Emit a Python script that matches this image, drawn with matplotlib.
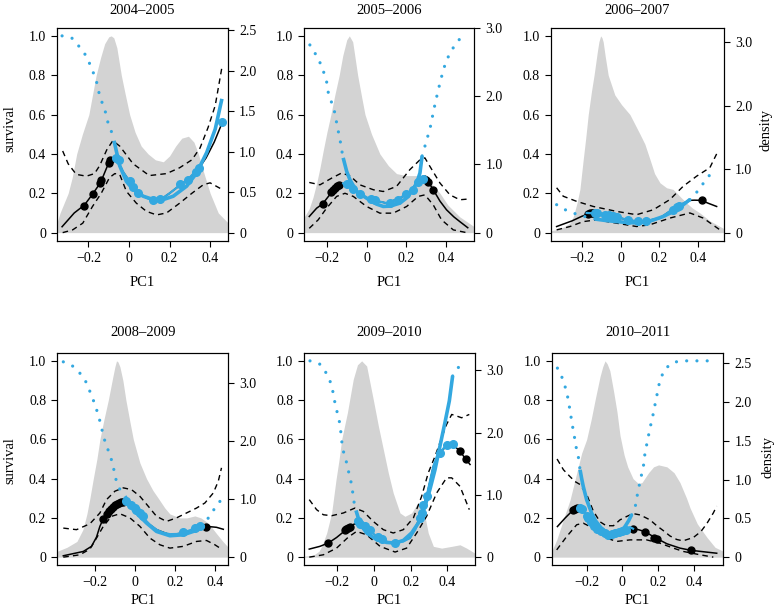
import matplotlib
matplotlib.use("Agg")
import matplotlib.pyplot as plt

plt.rcParams['font.family'] = ['Liberation Serif', 'DejaVu Serif']

BLUE = '#33a8e0'
GRAY = '#d3d3d3'

TITLES = ['2004–2005', '2005–2006', '2006–2007', '2008–2009', '2009–2010', '2010–2011']
XLIMS = [(-0.355, 0.488), (-0.314, 0.543), (-0.359, 0.533),
         (-0.388, 0.467), (-0.38, 0.551), (-0.396, 0.566)]
DENS_MAX = [2.43, 2.88, 3.10, 3.39, 3.15, 2.53]
RIGHT_TICKS = [[0, 0.5, 1.0, 1.5, 2.0, 2.5], [0, 1.0, 2.0, 3.0], [0, 1.0, 2.0, 3.0],
               [0, 1.0, 2.0, 3.0], [0, 1.0, 2.0, 3.0], [0, 0.5, 1.0, 1.5, 2.0, 2.5]]
LEFT_TICKS = [0, 0.2, 0.4, 0.6, 0.8, 1.0]
X_TICKS = [-0.2, 0, 0.2, 0.4]

# ---------------- panel 1 : 2004-2005 ----------------
P1_DENS_X = [-0.355, -0.34, -0.32, -0.30, -0.28, -0.258, -0.23, -0.198, -0.18, -0.162, -0.14, -0.12, -0.10,
             -0.088, -0.075, -0.06, -0.038, -0.02, 0.003, 0.03, 0.06, 0.094, 0.13, 0.169, 0.20, 0.23, 0.26,
             0.293, 0.32, 0.342, 0.37, 0.40, 0.44, 0.488]
P1_DENS_Y = [0.05, 0.10, 0.15, 0.20, 0.28, 0.40, 0.50, 0.60, 0.70, 0.80, 0.89, 0.96, 0.995, 1.0, 0.99, 0.94,
             0.80, 0.71, 0.60, 0.51, 0.44, 0.40, 0.37, 0.36, 0.39, 0.44, 0.48, 0.49, 0.46, 0.40, 0.30, 0.20,
             0.10, 0.05]
P1_FIT_X = [-0.33, -0.30, -0.27, -0.22, -0.18, -0.14, -0.11, -0.092, -0.075, -0.063, -0.03, 0.003, 0.045,
            0.09, 0.12, 0.16, 0.20, 0.25, 0.29, 0.34, 0.38, 0.42, 0.458]
P1_FIT_Y = [0.03, 0.065, 0.10, 0.14, 0.195, 0.255, 0.33, 0.37, 0.385, 0.38, 0.31, 0.26, 0.20, 0.175, 0.168,
            0.171, 0.20, 0.24, 0.27, 0.32, 0.38, 0.46, 0.555]
P1_UP_X = [-0.327, -0.30, -0.26, -0.21, -0.17, -0.145, -0.11, -0.08, -0.046, 0.02, 0.10, 0.185, 0.25, 0.31,
           0.35, 0.39, 0.425, 0.458]
P1_UP_Y = [0.415, 0.35, 0.296, 0.287, 0.30, 0.34, 0.42, 0.467, 0.44, 0.35, 0.29, 0.30, 0.33, 0.37, 0.43,
           0.535, 0.646, 0.84]
P1_LO_X = [-0.327, -0.278, -0.228, -0.18, -0.137, -0.096, -0.07, -0.046, -0.013, 0.036, 0.086, 0.136, 0.185,
           0.25, 0.31, 0.367, 0.40, 0.458]
P1_LO_Y = [0.0, 0.014, 0.048, 0.133, 0.20, 0.28, 0.30, 0.296, 0.21, 0.15, 0.108, 0.09, 0.10, 0.15, 0.20,
           0.244, 0.253, 0.22]
P1_PTS_X = [-0.22, -0.178, -0.145, -0.137, -0.099, -0.092]
P1_PTS_Y = [0.137, 0.195, 0.25, 0.27, 0.356, 0.37]
P1_BFIT_X = [-0.074, -0.046, -0.013, 0.02, 0.07, 0.12, 0.169, 0.218, 0.284, 0.334, 0.383, 0.425, 0.458]
P1_BFIT_Y = [0.467, 0.34, 0.26, 0.22, 0.185, 0.168, 0.168, 0.185, 0.236, 0.304, 0.407, 0.526, 0.68]
P1_BLINE_X = [-0.07, -0.063, -0.03, 0.003, 0.045, 0.09, 0.12, 0.16, 0.20, 0.25, 0.29, 0.345]
P1_BLINE_Y = [0.385, 0.38, 0.31, 0.26, 0.20, 0.175, 0.168, 0.171, 0.20, 0.24, 0.27, 0.33]
P1_BPTS_X = [-0.063, -0.05, 0.005, 0.02, 0.045, 0.12, 0.155, 0.25, 0.29, 0.33, 0.345, 0.458]
P1_BPTS_Y = [0.38, 0.37, 0.26, 0.23, 0.20, 0.165, 0.17, 0.245, 0.27, 0.31, 0.33, 0.56]
P1_DOTL_X = [-0.33, -0.281, -0.245, -0.208, -0.175, -0.159, -0.145, -0.129, -0.116, -0.104, -0.088, -0.074]
P1_DOTL_Y = [1.0, 0.988, 0.945, 0.894, 0.81, 0.762, 0.697, 0.65, 0.612, 0.56, 0.518, 0.467]
P1_DOTR_X = []
P1_DOTR_Y = []

# ---------------- panel 2 : 2005-2006 ----------------
P2_DENS_X = [-0.314, -0.29, -0.27, -0.252, -0.235, -0.218, -0.20, -0.18, -0.16, -0.138, -0.12, -0.10, -0.087,
             -0.07, -0.045, -0.025, -0.008, 0.025, 0.067, 0.11, 0.151, 0.20, 0.25, 0.286, 0.31, 0.336, 0.37,
             0.41, 0.47, 0.543]
P2_DENS_Y = [0.08, 0.12, 0.18, 0.25, 0.33, 0.42, 0.51, 0.60, 0.70, 0.80, 0.90, 0.98, 1.0, 0.97, 0.80, 0.69,
             0.60, 0.50, 0.40, 0.34, 0.30, 0.29, 0.29, 0.29, 0.27, 0.24, 0.20, 0.14, 0.08, 0.03]
P2_FIT_X = [-0.289, -0.252, -0.222, -0.18, -0.151, -0.118, -0.10, -0.034, 0.025, 0.10, 0.168, 0.218, 0.26,
            0.286, 0.31, 0.336, 0.37, 0.403, 0.44, 0.47, 0.51]
P2_FIT_Y = [0.082, 0.124, 0.146, 0.20, 0.226, 0.25, 0.243, 0.192, 0.167, 0.15, 0.175, 0.209, 0.26, 0.277,
            0.26, 0.218, 0.16, 0.116, 0.08, 0.056, 0.025]
P2_UP_X = [-0.289, -0.235, -0.176, -0.126, -0.084, -0.034, 0.034, 0.084, 0.151, 0.218, 0.269, 0.294, 0.319,
           0.37, 0.42, 0.47, 0.504]
P2_UP_Y = [0.255, 0.243, 0.277, 0.303, 0.289, 0.243, 0.218, 0.209, 0.235, 0.32, 0.37, 0.38, 0.337, 0.252,
           0.192, 0.167, 0.17]
P2_LO_X = [-0.289, -0.244, -0.202, -0.151, -0.109, -0.067, 0.0, 0.067, 0.134, 0.202, 0.26, 0.294, 0.336,
           0.378, 0.437, 0.504]
P2_LO_Y = [0.022, 0.065, 0.124, 0.184, 0.20, 0.184, 0.133, 0.099, 0.099, 0.133, 0.184, 0.192, 0.141, 0.065,
           0.014, 0.0]
P2_PTS_X = [-0.222, -0.18, -0.17, -0.16, -0.15, -0.14, 0.29, 0.30, 0.31, 0.336]
P2_PTS_Y = [0.146, 0.205, 0.215, 0.225, 0.235, 0.24, 0.275, 0.265, 0.255, 0.218]
P2_BFIT_X = [-0.118, -0.10, -0.084, -0.05, 0.0, 0.05, 0.084, 0.12, 0.168, 0.20, 0.235, 0.255, 0.269, 0.28]
P2_BFIT_Y = [0.38, 0.31, 0.269, 0.21, 0.175, 0.145, 0.133, 0.135, 0.15, 0.175, 0.218, 0.26, 0.303, 0.39]
P2_BLINE_X = [-0.118, -0.10, -0.034, 0.025, 0.10, 0.168, 0.218, 0.26, 0.285]
P2_BLINE_Y = [0.25, 0.243, 0.192, 0.167, 0.15, 0.175, 0.209, 0.26, 0.277]
P2_BPTS_X = [-0.10, -0.07, -0.034, 0.02, 0.04, 0.12, 0.16, 0.20, 0.235, 0.26, 0.285]
P2_BPTS_Y = [0.245, 0.22, 0.195, 0.17, 0.165, 0.152, 0.168, 0.195, 0.218, 0.255, 0.275]
P2_DOTL_X = [-0.286, -0.26, -0.235, -0.218, -0.202, -0.193, -0.176, -0.16, -0.148, -0.134, -0.126, -0.118]
P2_DOTL_Y = [0.954, 0.912, 0.864, 0.821, 0.77, 0.711, 0.66, 0.609, 0.541, 0.473, 0.422, 0.38]
P2_DOTR_X = [0.28, 0.30, 0.32, 0.34, 0.36, 0.38, 0.40, 0.43, 0.47]
P2_DOTR_Y = [0.39, 0.46, 0.53, 0.63, 0.72, 0.80, 0.87, 0.93, 0.985]

# ---------------- panel 3 : 2006-2007 ----------------
P3_DENS_X = [-0.359, -0.33, -0.29, -0.26, -0.244, -0.225, -0.21, -0.193, -0.18, -0.167, -0.15, -0.137, -0.12,
             -0.112, -0.103, -0.096, -0.09, -0.08, -0.064, -0.03, 0.005, 0.048, 0.074, 0.10, 0.125, 0.151,
             0.175, 0.203, 0.237, 0.27, 0.289, 0.31, 0.34, 0.37, 0.409, 0.46, 0.533]
P3_DENS_Y = [0.01, 0.015, 0.03, 0.05, 0.082, 0.15, 0.22, 0.37, 0.48, 0.60, 0.72, 0.80, 0.92, 0.97, 1.0, 0.99,
             0.97, 0.90, 0.80, 0.70, 0.65, 0.60, 0.55, 0.50, 0.45, 0.373, 0.30, 0.253, 0.228, 0.22, 0.202,
             0.18, 0.151, 0.125, 0.10, 0.06, 0.02]
P3_FIT_X = [-0.33, -0.25, -0.20, -0.167, -0.141, -0.09, -0.021, 0.048, 0.117, 0.203, 0.289, 0.357, 0.38, 0.417,
            0.45, 0.495]
P3_FIT_Y = [0.031, 0.06, 0.083, 0.095, 0.10, 0.096, 0.079, 0.062, 0.056, 0.074, 0.133, 0.164, 0.165, 0.164,
            0.15, 0.133]
P3_UP_X = [-0.33, -0.296, -0.227, -0.141, -0.021, 0.082, 0.168, 0.254, 0.323, 0.392, 0.46, 0.495]
P3_UP_Y = [0.228, 0.185, 0.159, 0.133, 0.108, 0.091, 0.116, 0.168, 0.236, 0.287, 0.33, 0.40]
P3_LO_X = [-0.33, -0.261, -0.193, -0.124, -0.021, 0.082, 0.151, 0.254, 0.357, 0.426, 0.512]
P3_LO_Y = [0.014, 0.031, 0.056, 0.065, 0.048, 0.031, 0.04, 0.074, 0.10, 0.074, 0.014]
P3_PTS_X = [-0.17, -0.16, -0.15, -0.14, 0.417]
P3_PTS_Y = [0.095, 0.10, 0.10, 0.10, 0.164]
P3_BFIT_X = [-0.132, -0.08, -0.021, 0.03, 0.065, 0.10, 0.15, 0.22, 0.289, 0.357]
P3_BFIT_Y = [0.069, 0.062, 0.056, 0.052, 0.05, 0.05, 0.058, 0.082, 0.116, 0.168]
P3_BLINE_X = [-0.175, -0.09, -0.021, 0.048, 0.117, 0.203, 0.289, 0.357]
P3_BLINE_Y = [0.10, 0.096, 0.079, 0.062, 0.056, 0.074, 0.133, 0.164]
P3_BPTS_X = [-0.13, -0.12, -0.08, -0.06, -0.04, -0.02, 0.04, 0.09, 0.13, 0.27, 0.29, 0.30]
P3_BPTS_Y = [0.098, 0.10, 0.09, 0.088, 0.085, 0.08, 0.065, 0.058, 0.06, 0.115, 0.13, 0.135]
P3_DOTL_X = [-0.33, -0.29, -0.24, -0.19, -0.132]
P3_DOTL_Y = [0.142, 0.118, 0.098, 0.083, 0.069]
P3_DOTR_X = [0.357, 0.392, 0.426, 0.457, 0.481]
P3_DOTR_Y = [0.168, 0.205, 0.25, 0.29, 0.335]

# ---------------- panel 4 : 2008-2009 ----------------
P4_DENS_X = [-0.388, -0.34, -0.29, -0.26, -0.24, -0.225, -0.208, -0.19, -0.175, -0.155, -0.133, -0.11, -0.10,
             -0.092, -0.085, -0.075, -0.06, -0.045, -0.025, -0.008, 0.025, 0.058, 0.09, 0.117, 0.15, 0.175,
             0.225, 0.26, 0.30, 0.33, 0.358, 0.385, 0.408, 0.44, 0.467]
P4_DENS_Y = [0.03, 0.05, 0.08, 0.14, 0.22, 0.30, 0.40, 0.50, 0.60, 0.70, 0.80, 0.92, 0.97, 1.0, 0.995, 0.97,
             0.90, 0.80, 0.69, 0.60, 0.48, 0.40, 0.34, 0.30, 0.25, 0.22, 0.20, 0.20, 0.21, 0.20, 0.18, 0.15,
             0.12, 0.08, 0.05]
P4_FIT_X = [-0.358, -0.258, -0.217, -0.192, -0.175, -0.158, -0.125, -0.092, -0.067, -0.042, -0.008, 0.042,
            0.108, 0.175, 0.242, 0.308, 0.358, 0.408, 0.442]
P4_FIT_Y = [0.007, 0.029, 0.055, 0.102, 0.157, 0.196, 0.242, 0.273, 0.281, 0.276, 0.242, 0.19, 0.14, 0.114,
            0.123, 0.143, 0.157, 0.152, 0.142]
P4_UP_X = [-0.358, -0.292, -0.225, -0.175, -0.142, -0.10, -0.058, -0.017, 0.025, 0.067, 0.108, 0.158, 0.208,
           0.258, 0.308, 0.35, 0.392, 0.417, 0.433]
P4_UP_Y = [0.148, 0.14, 0.17, 0.225, 0.293, 0.336, 0.353, 0.344, 0.31, 0.259, 0.208, 0.182, 0.20, 0.225,
           0.25, 0.276, 0.327, 0.387, 0.455]
P4_LO_X = [-0.358, -0.275, -0.225, -0.192, -0.158, -0.117, -0.075, -0.025, 0.025, 0.075, 0.125, 0.175, 0.242,
           0.308, 0.358, 0.40, 0.433]
P4_LO_Y = [0.0, 0.012, 0.041, 0.097, 0.157, 0.208, 0.221, 0.20, 0.157, 0.097, 0.063, 0.046, 0.055, 0.08,
           0.085, 0.063, 0.041]
P4_PTS_X = [-0.158, -0.14, -0.13, -0.12, -0.11, -0.10, -0.09, -0.08, -0.07, -0.06, 0.358]
P4_PTS_Y = [0.196, 0.22, 0.235, 0.245, 0.255, 0.265, 0.27, 0.278, 0.28, 0.282, 0.155]
P4_BFIT_X = [-0.05, -0.025, 0.008, 0.058, 0.108, 0.175, 0.242, 0.292, 0.342]
P4_BFIT_Y = [0.31, 0.273, 0.225, 0.174, 0.131, 0.109, 0.114, 0.131, 0.152]
P4_BLINE_X = [-0.05, -0.025, 0.008, 0.042, 0.075, 0.108, 0.14, 0.175, 0.21, 0.242, 0.275, 0.30, 0.325, 0.345]
P4_BLINE_Y = [0.29, 0.265, 0.235, 0.20, 0.165, 0.14, 0.125, 0.117, 0.118, 0.125, 0.137, 0.147, 0.155, 0.158]
P4_BPTS_X = [-0.042, -0.017, 0.0, 0.008, 0.025, 0.042, 0.242, 0.30, 0.325]
P4_BPTS_Y = [0.284, 0.267, 0.25, 0.242, 0.225, 0.208, 0.126, 0.148, 0.157]
P4_DOTL_X = [-0.358, -0.312, -0.275, -0.245, -0.228, -0.208, -0.192, -0.178, -0.167, -0.155, -0.142, -0.125,
             -0.108, -0.10, -0.083, -0.067, -0.05]
P4_DOTL_Y = [0.995, 0.974, 0.937, 0.893, 0.852, 0.80, 0.753, 0.705, 0.659, 0.608, 0.566, 0.523, 0.463,
             0.412, 0.361, 0.33, 0.31]
P4_DOTR_X = [0.342, 0.367, 0.392, 0.425]
P4_DOTR_Y = [0.152, 0.20, 0.238, 0.284]

# ---------------- panel 5 : 2009-2010 ----------------
P5_DENS_X = [-0.38, -0.33, -0.30, -0.285, -0.258, -0.231, -0.207, -0.19, -0.176, -0.145, -0.113, -0.09, -0.067,
             -0.04, -0.004, 0.024, 0.051, 0.078, 0.105, 0.142, 0.169, 0.205, 0.233, 0.251, 0.265, 0.278, 0.296,
             0.324, 0.369, 0.424, 0.469, 0.505, 0.551]
P5_DENS_Y = [0.005, 0.01, 0.03, 0.055, 0.123, 0.225, 0.395, 0.50, 0.60, 0.736, 0.906, 0.98, 1.0, 0.974,
             0.804, 0.668, 0.549, 0.43, 0.327, 0.225, 0.208, 0.225, 0.267, 0.273, 0.25, 0.208, 0.123, 0.055,
             0.046, 0.055, 0.063, 0.046, 0.02]
P5_FIT_X = [-0.353, -0.295, -0.249, -0.204, -0.158, -0.131, -0.104, -0.076, -0.022, 0.042, 0.115, 0.196, 0.251,
            0.287, 0.324, 0.36, 0.396, 0.429, 0.469, 0.502, 0.524]
P5_FIT_Y = [0.041, 0.055, 0.072, 0.10, 0.135, 0.157, 0.17, 0.157, 0.114, 0.08, 0.072, 0.097, 0.20, 0.31,
            0.463, 0.532, 0.566, 0.574, 0.54, 0.497, 0.472]
P5_UP_X = [-0.353, -0.313, -0.276, -0.231, -0.167, -0.104, -0.058, -0.004, 0.051, 0.105, 0.16, 0.215, 0.26,
           0.296, 0.333, 0.369, 0.396, 0.424, 0.451, 0.478, 0.52]
P5_UP_Y = [0.293, 0.242, 0.216, 0.211, 0.225, 0.25, 0.233, 0.182, 0.14, 0.123, 0.14, 0.20, 0.31, 0.429,
           0.514, 0.608, 0.676, 0.727, 0.719, 0.71, 0.727]
P5_LO_X = [-0.353, -0.276, -0.204, -0.14, -0.095, -0.04, 0.033, 0.115, 0.178, 0.233, 0.287, 0.342, 0.396,
           0.424, 0.469, 0.52]
P5_LO_Y = [0.0, 0.012, 0.046, 0.102, 0.131, 0.114, 0.055, 0.026, 0.046, 0.123, 0.208, 0.327, 0.404, 0.404,
           0.361, 0.242]
P5_PTS_X = [-0.249, -0.158, -0.15, -0.14, -0.13, 0.469, 0.502]
P5_PTS_Y = [0.072, 0.14, 0.145, 0.15, 0.155, 0.54, 0.50]
P5_BFIT_X = [-0.098, -0.076, -0.04, 0.015, 0.069, 0.115, 0.16, 0.205, 0.242, 0.278, 0.305, 0.333, 0.36, 0.387,
             0.411, 0.429]
P5_BFIT_Y = [0.238, 0.17, 0.123, 0.089, 0.075, 0.072, 0.085, 0.123, 0.174, 0.259, 0.344, 0.446, 0.566, 0.685,
             0.796, 0.923]
P5_BLINE_X = [-0.098, -0.076, -0.049, -0.022, 0.015, 0.042, 0.08, 0.115, 0.16, 0.196, 0.225, 0.251, 0.269,
              0.287, 0.305, 0.324, 0.342, 0.36, 0.38, 0.396, 0.429]
P5_BLINE_Y = [0.19, 0.17, 0.155, 0.135, 0.105, 0.09, 0.075, 0.072, 0.08, 0.097, 0.14, 0.20, 0.255, 0.31,
              0.385, 0.463, 0.51, 0.532, 0.555, 0.566, 0.574]
P5_BPTS_X = [-0.085, -0.076, -0.049, -0.022, 0.024, 0.042, 0.115, 0.251, 0.26, 0.269, 0.287, 0.36, 0.396,
             0.429]
P5_BPTS_Y = [0.182, 0.17, 0.157, 0.14, 0.102, 0.092, 0.072, 0.20, 0.225, 0.267, 0.31, 0.532, 0.569, 0.574]
P5_DOTL_X = [-0.349, -0.295, -0.262, -0.24, -0.225, -0.213, -0.198, -0.185, -0.176, -0.167, -0.149, -0.135,
             -0.122, -0.113, -0.104, -0.098]
P5_DOTL_Y = [1.0, 0.983, 0.94, 0.898, 0.847, 0.787, 0.727, 0.676, 0.591, 0.54, 0.48, 0.421, 0.37, 0.31,
             0.25, 0.238]
P5_DOTR_X = [0.429, 0.46, 0.505]
P5_DOTR_Y = [0.923, 0.966, 0.995]

# ---------------- panel 6 : 2010-2011 ----------------
P6_DENS_X = [-0.396, -0.368, -0.331, -0.293, -0.256, -0.228, -0.20, -0.175, -0.153, -0.125, -0.11, -0.097,
             -0.085, -0.07, -0.05, -0.03, -0.013, 0.01, 0.03, 0.06, 0.09, 0.11, 0.147, 0.175, 0.203, 0.25, 0.29,
             0.323, 0.36, 0.38, 0.42, 0.475, 0.52, 0.566]
P6_DENS_Y = [0.03, 0.088, 0.19, 0.292, 0.428, 0.53, 0.60, 0.70, 0.80, 0.92, 0.97, 1.0, 0.985, 0.95, 0.85,
             0.74, 0.62, 0.52, 0.46, 0.40, 0.375, 0.38, 0.43, 0.46, 0.47, 0.46, 0.43, 0.38, 0.30, 0.25, 0.17,
             0.10, 0.05, 0.03]
P6_FIT_X = [-0.364, -0.32, -0.275, -0.256, -0.237, -0.20, -0.172, -0.125, -0.069, -0.013, 0.052, 0.09, 0.127,
            0.16, 0.193, 0.25, 0.323, 0.383, 0.45, 0.529]
P6_FIT_Y = [0.156, 0.20, 0.241, 0.25, 0.255, 0.216, 0.182, 0.139, 0.114, 0.131, 0.148, 0.14, 0.13, 0.112,
            0.095, 0.068, 0.046, 0.035, 0.028, 0.02]
P6_UP_X = [-0.366, -0.33, -0.293, -0.265, -0.237, -0.20, -0.163, -0.125, -0.09, -0.05, -0.013, 0.024, 0.06,
           0.10, 0.155, 0.193, 0.23, 0.267, 0.305, 0.34, 0.398, 0.44, 0.473, 0.51, 0.529]
P6_UP_Y = [0.50, 0.445, 0.41, 0.385, 0.37, 0.32, 0.235, 0.18, 0.16, 0.16, 0.19, 0.207, 0.222, 0.215, 0.19,
           0.16, 0.135, 0.108, 0.09, 0.083, 0.10, 0.13, 0.17, 0.225, 0.26]
P6_LO_X = [-0.368, -0.312, -0.256, -0.219, -0.163, -0.088, -0.032, 0.043, 0.136, 0.211, 0.286, 0.342, 0.436,
           0.51]
P6_LO_Y = [0.037, 0.105, 0.165, 0.173, 0.148, 0.097, 0.08, 0.088, 0.088, 0.071, 0.046, 0.029, 0.012, 0.0]
P6_PTS_X = [-0.275, -0.265, -0.256, 0.06, 0.127, 0.18, 0.193, 0.383]
P6_PTS_Y = [0.241, 0.245, 0.25, 0.145, 0.13, 0.10, 0.095, 0.035]
P6_BFIT_X = [-0.237, -0.228, -0.219, -0.20, -0.172, -0.15, -0.125, -0.10, -0.079, -0.055, -0.032, -0.01, 0.015,
             0.035, 0.052]
P6_BFIT_Y = [0.445, 0.40, 0.36, 0.292, 0.224, 0.185, 0.156, 0.13, 0.114, 0.108, 0.114, 0.13, 0.156, 0.185,
             0.216]
P6_BLINE_X = [-0.237, -0.20, -0.172, -0.125, -0.069, -0.013, 0.043, 0.06]
P6_BLINE_Y = [0.25, 0.216, 0.182, 0.139, 0.114, 0.131, 0.153, 0.145]
P6_BPTS_X = [-0.237, -0.225, -0.20, -0.19, -0.175, -0.16, -0.14, -0.12, -0.10, -0.08, -0.06, -0.04, -0.02,
             0.0, 0.02]
P6_BPTS_Y = [0.25, 0.245, 0.21, 0.20, 0.18, 0.16, 0.145, 0.135, 0.125, 0.115, 0.118, 0.125, 0.13, 0.135,
             0.14]
P6_DOTL_X = [-0.364, -0.34, -0.321, -0.307, -0.297, -0.288, -0.279, -0.269, -0.26, -0.247, -0.237]
P6_DOTL_Y = [0.963, 0.92, 0.869, 0.818, 0.767, 0.716, 0.666, 0.615, 0.564, 0.513, 0.445]
P6_DOTR_X = [0.052, 0.071, 0.084, 0.099, 0.118, 0.127, 0.142, 0.155, 0.17, 0.183, 0.198, 0.211, 0.239, 0.286,
             0.342, 0.398, 0.454, 0.51]
P6_DOTR_Y = [0.216, 0.25, 0.317, 0.385, 0.462, 0.53, 0.598, 0.657, 0.716, 0.776, 0.844, 0.903, 0.959, 0.993,
             1.0, 1.0, 1.0, 1.0]

PANELS = [
    (P1_DENS_X, P1_DENS_Y, P1_FIT_X, P1_FIT_Y, P1_UP_X, P1_UP_Y, P1_LO_X, P1_LO_Y, P1_PTS_X, P1_PTS_Y,
     P1_BFIT_X, P1_BFIT_Y, P1_BLINE_X, P1_BLINE_Y, P1_BPTS_X, P1_BPTS_Y, P1_DOTL_X, P1_DOTL_Y, P1_DOTR_X, P1_DOTR_Y),
    (P2_DENS_X, P2_DENS_Y, P2_FIT_X, P2_FIT_Y, P2_UP_X, P2_UP_Y, P2_LO_X, P2_LO_Y, P2_PTS_X, P2_PTS_Y,
     P2_BFIT_X, P2_BFIT_Y, P2_BLINE_X, P2_BLINE_Y, P2_BPTS_X, P2_BPTS_Y, P2_DOTL_X, P2_DOTL_Y, P2_DOTR_X, P2_DOTR_Y),
    (P3_DENS_X, P3_DENS_Y, P3_FIT_X, P3_FIT_Y, P3_UP_X, P3_UP_Y, P3_LO_X, P3_LO_Y, P3_PTS_X, P3_PTS_Y,
     P3_BFIT_X, P3_BFIT_Y, P3_BLINE_X, P3_BLINE_Y, P3_BPTS_X, P3_BPTS_Y, P3_DOTL_X, P3_DOTL_Y, P3_DOTR_X, P3_DOTR_Y),
    (P4_DENS_X, P4_DENS_Y, P4_FIT_X, P4_FIT_Y, P4_UP_X, P4_UP_Y, P4_LO_X, P4_LO_Y, P4_PTS_X, P4_PTS_Y,
     P4_BFIT_X, P4_BFIT_Y, P4_BLINE_X, P4_BLINE_Y, P4_BPTS_X, P4_BPTS_Y, P4_DOTL_X, P4_DOTL_Y, P4_DOTR_X, P4_DOTR_Y),
    (P5_DENS_X, P5_DENS_Y, P5_FIT_X, P5_FIT_Y, P5_UP_X, P5_UP_Y, P5_LO_X, P5_LO_Y, P5_PTS_X, P5_PTS_Y,
     P5_BFIT_X, P5_BFIT_Y, P5_BLINE_X, P5_BLINE_Y, P5_BPTS_X, P5_BPTS_Y, P5_DOTL_X, P5_DOTL_Y, P5_DOTR_X, P5_DOTR_Y),
    (P6_DENS_X, P6_DENS_Y, P6_FIT_X, P6_FIT_Y, P6_UP_X, P6_UP_Y, P6_LO_X, P6_LO_Y, P6_PTS_X, P6_PTS_Y,
     P6_BFIT_X, P6_BFIT_Y, P6_BLINE_X, P6_BLINE_Y, P6_BPTS_X, P6_BPTS_Y, P6_DOTL_X, P6_DOTL_Y, P6_DOTR_X, P6_DOTR_Y),
]

# axes boxes in pixels: left, right, top, bottom
BOXES = [(57, 228, 28, 240.5), (304.3, 474.3, 28, 240.5), (551, 724, 28, 240.5),
         (57.3, 228.3, 353, 565), (304.3, 475, 353, 565), (551.7, 723.3, 353, 565)]

W, H = 777, 610
fig = plt.figure(figsize=(W / 100, H / 100), dpi=100)


def fx(px):
    return px / W


def fy(py):
    return 1 - py / H


def fmt(v):
    return '0' if v == 0 else ('%.1f' % v).replace('-', '\u2212')


for i, (box, data) in enumerate(zip(BOXES, PANELS)):
    (dx, dy, fxs, fys, ux, uy, lx, ly, px_, py_, bfx, bfy, blx, bly, bpx, bpy,
     dlx, dly, drx, dry) = data
    L, R, T, B = box
    ax = fig.add_axes([fx(L), fy(B), (R - L) / W, (B - T) / H])
    ax.set_xlim(*XLIMS[i])
    ax.set_ylim(-0.04, 1.04)
    ax.fill_between(dx, 0, dy, color=GRAY, lw=0, zorder=1)
    ax.plot(ux, uy, color='black', lw=1.0, dashes=(4, 3), zorder=2)
    ax.plot(lx, ly, color='black', lw=1.0, dashes=(4, 3), zorder=2)
    ax.plot(fxs, fys, color='black', lw=1.1, zorder=3)
    ax.plot(px_, py_, 'o', color='black', ms=5, zorder=4)
    dot = dict(color=BLUE, lw=2.3, linestyle=(0, (0.01, 3.2)), dash_capstyle='round', zorder=5)
    if dlx:
        ax.plot(dlx, dly, **dot)
    if drx:
        ax.plot(drx, dry, **dot)
    ax.plot(bfx, bfy, color=BLUE, lw=2.6, solid_capstyle='butt', zorder=6)
    ax.plot(blx, bly, color=BLUE, lw=1.6, zorder=7)
    ax.plot(bpx, bpy, 'o', color=BLUE, ms=5.5, zorder=8)

    ax.set_xticks(X_TICKS)
    ax.set_xticklabels([fmt(v) for v in X_TICKS])
    ax.set_yticks(LEFT_TICKS)
    ax.set_yticklabels([fmt(v) for v in LEFT_TICKS])
    ax.tick_params(direction='out', length=4.5, width=0.8, pad=3.5, labelsize=10)
    for s in ax.spines.values():
        s.set_linewidth(0.8)

    dmax = DENS_MAX[i]
    tw = ax.twinx()
    tw.set_ylim(-0.04 * dmax, 1.04 * dmax)
    tw.set_yticks(RIGHT_TICKS[i])
    tw.set_yticklabels([fmt(v) for v in RIGHT_TICKS[i]])
    tw.tick_params(direction='out', length=4.5, width=0.8, pad=3.5, labelsize=10)
    for s in tw.spines.values():
        s.set_linewidth(0.8)

    cx = (L + R) / 2
    ty = 10 if i < 3 else 332
    fig.text(fx(cx), fy(ty), TITLES[i], ha='center', va='center', fontsize=10.5)
    ly_ = 283 if i < 3 else 600
    fig.text(fx(cx), fy(ly_), 'PC1', ha='center', va='center', fontsize=10.5)

fig.text(fx(10), fy(129), 'survival', rotation=90, ha='center', va='center', fontsize=10.5)
fig.text(fx(10), fy(461), 'survival', rotation=90, ha='center', va='center', fontsize=10.5)
fig.text(fx(766), fy(130), 'density', rotation=90, ha='center', va='center', fontsize=10.5)
fig.text(fx(768), fy(457), 'density', rotation=90, ha='center', va='center', fontsize=10.5)

fig.savefig('out.png', dpi=100)
